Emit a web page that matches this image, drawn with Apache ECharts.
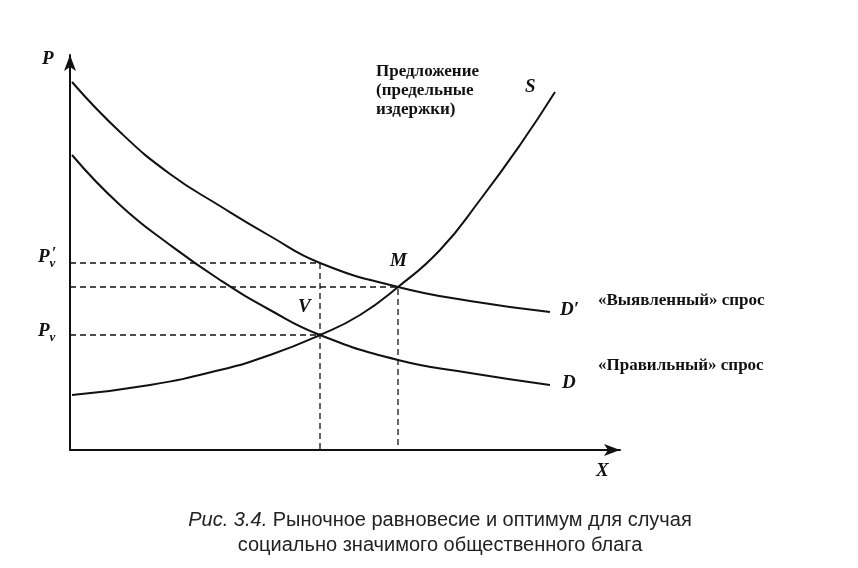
<!DOCTYPE html>
<html><head><meta charset="utf-8">
<script src="https://cdn.jsdelivr.net/npm/echarts@6/dist/echarts.min.js"></script>
<style>html,body{margin:0;background:#fff}#c{width:858px;height:568px}</style>
</head><body><div id="c"></div>
<script>
// X and P values in chart units
const xs = [2, 50, 100, 150, 200, 250, 328, 400, 480];
const demandRevealed = [368, 318, 276, 244, 214, 187, 163, 149, 138]; // D'
const demandTrue = [295, 245, 205, 170, 140, 115, 90, 77, 65];         // D
const supplyX = [2, 80, 150, 200, 250, 290, 328, 370, 410, 450, 485];
const supplyY = [55, 65, 80, 95, 115, 135, 163, 200, 250, 305, 358];   // S
const pvPrime = 187, pm = 163, pv = 115, xv = 250, xm = 328;

const pair = (a, b) => a.map((v, i) => [v, b[i]]);
const solid = {type: 'line', smooth: true, symbol: 'none', lineStyle: {color: '#111', width: 2}, silent: true};
const dash = {type: 'line', symbol: 'none', lineStyle: {color: '#111', width: 1.3, type: [6, 4]}, silent: true};
const serif = '"Liberation Serif", "DejaVu Serif", serif';
const t = (x, y, text, extra) => ({type: 'text', left: x, top: y, style: Object.assign({text, font: 'italic bold 19px ' + serif, fill: '#111'}, extra || {})});
const sub = {p: {font: 'italic bold 19px ' + serif, fill: '#111'}, s: {font: 'italic bold 13px ' + serif, fill: '#111', padding: [12, 0, 0, 0]}};

const chart = echarts.init(document.getElementById('c'));
chart.setOption({
  animation: false,
  grid: {left: 70, top: 55, width: 550, height: 395},
  xAxis: {type: 'value', min: 0, max: 550, axisLine: {lineStyle: {color: '#111', width: 2}, symbol: ['none', 'arrow'], symbolSize: [9, 16]}, axisTick: {show: false}, axisLabel: {show: false}, splitLine: {show: false}},
  yAxis: {type: 'value', min: 0, max: 395, axisLine: {show: true, lineStyle: {color: '#111', width: 2}, symbol: ['none', 'arrow'], symbolSize: [9, 16]}, axisTick: {show: false}, axisLabel: {show: false}, splitLine: {show: false}},
  series: [
    Object.assign({data: pair(xs, demandRevealed)}, solid),
    Object.assign({data: pair(xs, demandTrue)}, solid),
    Object.assign({data: pair(supplyX, supplyY)}, solid),
    Object.assign({data: [[0, pvPrime], [xv, pvPrime], [xv, 0]]}, dash),
    Object.assign({data: [[0, pm], [xm, pm], [xm, 0]]}, dash),
    Object.assign({data: [[0, pv], [xv, pv]]}, dash)
  ],
  graphic: [
    t(42, 50, 'P'), t(596, 462, 'X'),
    {type: 'text', left: 38, top: 248, style: {text: "{p|P}{s|v}", rich: sub}},
    t(52, 246, "′", {font: 'bold 16px ' + serif}),
    {type: 'text', left: 38, top: 322, style: {text: "{p|P}{s|v}", rich: sub}},
    t(298, 298, 'V'), t(390, 252, 'M'), t(525, 78, 'S'),
    t(560, 301, "D′"), t(562, 374, 'D'),
    t(598, 292, '«Выявленный» спрос', {font: 'bold 17px ' + serif}),
    t(598, 357, '«Правильный» спрос', {font: 'bold 17px ' + serif}),
    t(376, 62, 'Предложение\n(предельные\nиздержки)', {font: 'bold 17px ' + serif, lineHeight: 19}),
    {type: 'text', x: 440, y: 508, style: {text: '{i|Рис. 3.4.} Рыночное равновесие и оптимум для случая\nсоциально значимого общественного блага', align: 'center', font: '20px "Liberation Sans", Arial, sans-serif', fill: '#222', lineHeight: 25, rich: {i: {font: 'italic 20px "Liberation Sans", Arial, sans-serif', fill: '#222'}}}}
  ]
});
</script></body></html>
